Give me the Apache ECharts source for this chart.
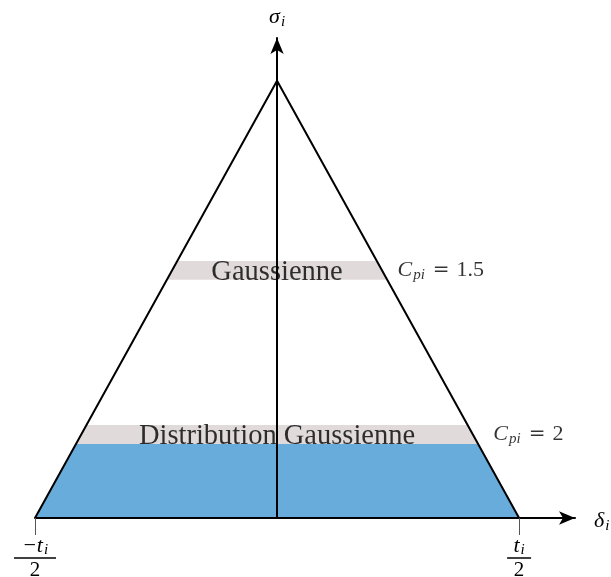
<!DOCTYPE html>
<html>
<head>
<meta charset="utf-8">
<script src="https://cdn.jsdelivr.net/npm/echarts@6/dist/echarts.min.js"></script>
<style>
  html, body { margin: 0; padding: 0; background: #fff; }
  #chart { width: 611px; height: 577px; }
</style>
</head>
<body>
<div id="chart"></div>
<script>
// Triangular distribution of the deviation δ_i on [-t_i/2, t_i/2], apex normalised to 1
const triangle = [[-1, 0], [0, 1], [1, 0]];
// Horizontal bands (y ranges) inside the triangle
const bandGaussienne = [0.545, 0.588];     // Cpi = 1.5
const bandDistribution = [0.169, 0.213];   // Cpi = 2
const filledRange = [0, 0.169];            // shaded area below the Cpi = 2 band
const bandTexts = ['Gaussienne', 'Distribution Gaussienne'];
const cpiValues = ['1.5', '2'];
// Tolerance limits on the δ axis
const tickValues = [-1, 1];
const tickNumerators = ['−t', 't'];
const tickDenominator = '2';

const SERIF = "'Liberation Serif', 'DejaVu Serif', serif";
const INK = '#000';

const mathRich = {
  it:  { fontFamily: SERIF, fontStyle: 'italic', fontSize: 22, color: INK },
  sub: { fontFamily: SERIF, fontStyle: 'italic', fontSize: 15, color: INK, padding: [10, 0, 0, 1] },
  eq:  { fontFamily: "'DejaVu Serif', serif", fontSize: 20, color: INK, padding: [0, 7, 0, 8] },
  rm:  { fontFamily: SERIF, fontSize: 22, color: INK }
};

const apexY = triangle[1][1];
const halfWidthAt = y => triangle[2][0] * (1 - y / apexY);

// Trapezoid slice of the triangle between two heights
function renderBand(params, api) {
  const y0 = api.value(0), y1 = api.value(1);
  const pts = [
    [-halfWidthAt(y0), y0], [halfWidthAt(y0), y0],
    [halfWidthAt(y1), y1], [-halfWidthAt(y1), y1]
  ].map(p => api.coord(p));
  return { type: 'polygon', shape: { points: pts }, style: { fill: api.visual('color') } };
}

const bands = [
  { value: filledRange, itemStyle: { color: '#67acdb' } },
  { value: bandDistribution, itemStyle: { color: '#e0dadb' } },
  { value: bandGaussienne, itemStyle: { color: '#e0dadb' } }
];

const bandList = [bandGaussienne, bandDistribution];
const mid = b => (b[0] + b[1]) / 2;

const bandLabelData = bandList.map((b, i) => [0, mid(b), bandTexts[i]]);
const cpiGaps = [15, 20];
const cpiLabelData = bandList.map((b, i) => ({
  value: [halfWidthAt(mid(b)), mid(b), cpiValues[i]],
  label: { distance: cpiGaps[i] }
}));

const chart = echarts.init(document.getElementById('chart'), null, { renderer: 'canvas' });
chart.setOption({
  animation: false,
  backgroundColor: '#fff',
  grid: { left: 35, right: 36, top: 38, bottom: 59, containLabel: false, outerBoundsMode: 'none' },
  xAxis: {
    type: 'value', min: -1, max: 1.231, z: 5,
    splitLine: { show: false },
    axisLine: { onZero: true, lineStyle: { color: INK, width: 2 }, symbol: ['none', 'arrow'], symbolSize: [10, 16] },
    axisTick: { show: true, customValues: tickValues, length: 17, lineStyle: { color: '#555', width: 1 } },
    axisLabel: {
      show: true, customValues: tickValues, margin: 19,
      formatter: v => {
        const i = tickValues.indexOf(v);
        const bar = i === 0 ? 'barL' : 'barR';
        return '{num|' + tickNumerators[i] + '}{nsub|i}\n{' + bar + '| }\n{den|' + tickDenominator + '}';
      },
      rich: {
        num:  { fontFamily: SERIF, fontStyle: 'italic', fontSize: 22, color: INK, lineHeight: 18, align: 'center' },
        nsub: { fontFamily: SERIF, fontStyle: 'italic', fontSize: 15, color: INK, lineHeight: 18, padding: [9, 0, 0, 1], align: 'center' },
        barL: { width: 42, height: 1.5, lineHeight: 6, fontSize: 2, backgroundColor: INK, align: 'center' },
        barR: { width: 24, height: 1.5, lineHeight: 6, fontSize: 2, backgroundColor: INK, align: 'center' },
        den:  { fontFamily: SERIF, fontSize: 21, color: INK, lineHeight: 18, align: 'center' }
      }
    },
    name: '{it|δ}{sub|i}',
    nameLocation: 'end', nameGap: 19,
    nameTextStyle: { rich: mathRich, padding: [7, 0, 0, 0] }
  },
  yAxis: {
    type: 'value', min: 0, max: 1.098, z: 5,
    splitLine: { show: false },
    axisLine: { onZero: true, lineStyle: { color: INK, width: 2 }, symbol: ['none', 'arrow'], symbolSize: [10, 16] },
    axisTick: { show: false },
    axisLabel: { show: false },
    name: '{it|σ}{sub|i}',
    nameLocation: 'end', nameGap: 8,
    nameTextStyle: { rich: mathRich }
  },
  series: [
    {
      type: 'custom', z: 1, silent: true,
      renderItem: renderBand,
      data: bands
    },
    {
      type: 'line', z: 3, silent: true,
      data: triangle, symbol: 'none',
      lineStyle: { color: INK, width: 2 }
    },
    {
      type: 'scatter', z: 6, silent: true,
      data: bandLabelData, symbolSize: 1,
      itemStyle: { color: 'transparent' },
      label: {
        show: true, position: 'inside', offset: [0, 2],
        formatter: p => p.value[2],
        fontFamily: SERIF, fontSize: 28.5, color: INK
      }
    },
    {
      type: 'scatter', z: 6, silent: true,
      data: cpiLabelData, symbolSize: 1,
      itemStyle: { color: 'transparent' },
      label: {
        show: true, position: 'right', color: INK,
        formatter: p => '{it|C}{sub|pi}{eq|=}{rm|' + p.value[2] + '}',
        rich: mathRich
      }
    }
  ]
});
</script>
</body>
</html>
